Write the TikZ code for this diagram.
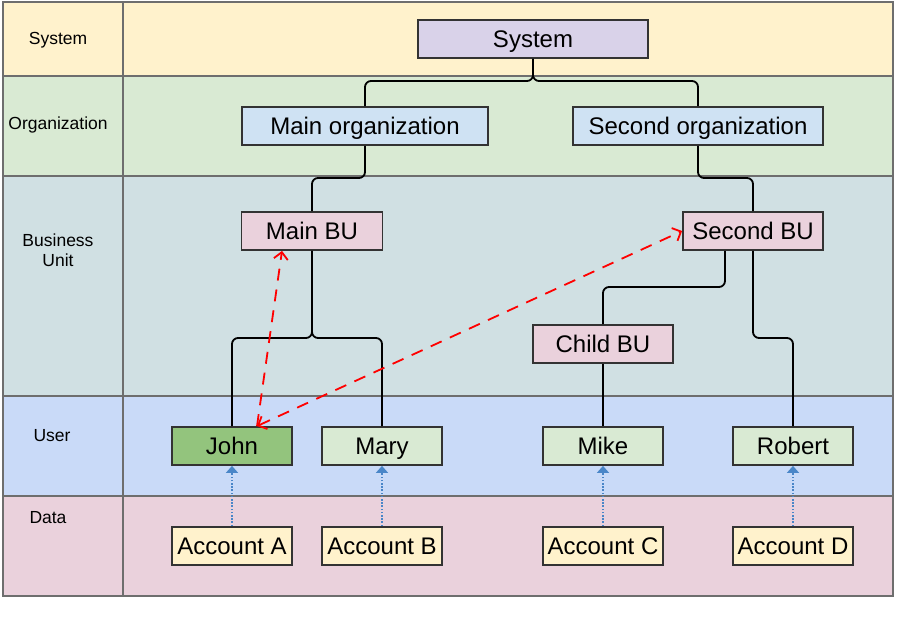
\documentclass[tikz,border=0pt]{standalone}
\usepackage{fontspec}
\setmainfont{Liberation Sans}
\usepackage{tikz}
\usetikzlibrary{positioning,calc,arrows.meta}
\definecolor{lnsys}{HTML}{FFF2CC}
\definecolor{lnorg}{HTML}{D9EAD3}
\definecolor{lnbu}{HTML}{D0E0E3}
\definecolor{lnuser}{HTML}{C9DAF8}
\definecolor{lndata}{HTML}{EAD1DC}
\definecolor{sysfill}{HTML}{D9D2E9}
\definecolor{orgfill}{HTML}{CFE2F3}
\definecolor{bufill}{HTML}{EAD1DC}
\definecolor{userfill}{HTML}{D9EAD3}
\definecolor{johnfill}{HTML}{93C47D}
\definecolor{accfill}{HTML}{FFF2CC}
\definecolor{boxline}{HTML}{333333}
\definecolor{laneline}{HTML}{6E6E6E}
\definecolor{linkblue}{HTML}{4A86C8}

\begin{document}
\begin{tikzpicture}[
  x=1pt, y=-1pt,
  lane/.style={draw=laneline,line width=1.6pt},
  lanelbl/.style={font=\fontsize{17.5}{20}\selectfont,align=center},
  box/.style={draw=boxline,line width=1.8pt,inner sep=0pt,minimum height=38pt,
              text height=17pt,text depth=0pt,font=\fontsize{24}{27}\selectfont},
  tree/.style={line width=1.8pt,rounded corners=6pt},
  assign/.style={red,line width=1.8pt,dash pattern=on 12pt off 9pt},
  barb/.style={arrows={-Straight Barb[length=7pt,width=14pt]}},
  dblbarb/.style={arrows={Straight Barb[length=7pt,width=14pt]-Straight Barb[length=7pt,width=14pt]}},
  owns/.style={linkblue,line width=1.6pt,dash pattern=on 1.6pt off 1.6pt,
               -{Triangle[length=7pt,width=12pt]}}
]
  \useasboundingbox (0,0) rectangle (913,620);

  % swim lanes
  \foreach \ya/\yb/\col in {2/76/lnsys, 76/176/lnorg, 176/396/lnbu, 396/496/lnuser, 496/596/lndata}{
    \draw[lane,fill=\col] (3,\ya) rectangle (123,\yb);
    \draw[lane,fill=\col] (123,\ya) rectangle (893,\yb);
  }
  \node[lanelbl] (lsys) at (58,40) {System};
  \node[lanelbl] (lorg) at (58,125) {Organization};
  \node[lanelbl] (lbu) at (58,250) {Business\\Unit};
  \node[lanelbl] (luser) at (52,436) {User};
  \node[lanelbl] (ldata) at (48,518) {Data};

  % boxes
  \node[box,fill=sysfill,minimum width=230pt] (sys) at (533,39) {System};
  \node[box,fill=orgfill,minimum width=246pt] (morg) at (365,126) {Main organization};
  \node[box,fill=orgfill,minimum width=250pt] (sorg) at (698,126) {Second organization};
  \node[box,fill=bufill,minimum width=141pt] (mbu) at (312,231) {Main BU};
  \node[box,fill=bufill,minimum width=140pt] (sbu) at (753,231) {Second BU};
  \node[box,fill=bufill,minimum width=140pt] (cbu) at (603,344) {Child BU};
  \node[box,fill=johnfill,minimum width=120pt] (john) at (232,446) {John};
  \node[box,fill=userfill,minimum width=120pt] (mary) at (382,446) {Mary};
  \node[box,fill=userfill,minimum width=120pt] (mike) at (603,446) {Mike};
  \node[box,fill=userfill,minimum width=120pt] (robert) at (793,446) {Robert};
  \node[box,fill=accfill,minimum width=120pt] (acca) at (232,546) {Account A};
  \node[box,fill=accfill,minimum width=120pt] (accb) at (382,546) {Account B};
  \node[box,fill=accfill,minimum width=120pt] (accc) at (603,546) {Account C};
  \node[box,fill=accfill,minimum width=120pt] (accd) at (793,546) {Account D};

  % hierarchy
  \draw[tree] (sys.south) -- (533,81) -| (morg.north);
  \draw[tree] (sys.south) -- (533,81) -| (sorg.north);
  \draw[tree] (morg.south) -- (365,178) -| (mbu.north);
  \draw[tree] (sorg.south) -- (698,178) -| (sbu.north);
  \draw[tree] (mbu.south) -- (312,338) -| (john.north);
  \draw[tree] (mbu.south) -- (312,338) -| (mary.north);
  \draw[tree] ($(sbu.south)+(-28,0)$) -- (725,287) -| (cbu.north);
  \draw[tree] (sbu.south) -- (753,338) -| (robert.north);
  \draw[tree] (cbu.south) -- (mike.north);

  % assignments
  \draw[assign,barb] ($(john.north)+(25,0)$) -- ($(mbu.south)+(-30,0)$);
  \draw[assign,dblbarb] ($(john.north)+(25,0)$) -- (sbu.west);

  % accounts
  \foreach \a/\u in {acca/john, accb/mary, accc/mike, accd/robert}
    \draw[owns] (\a.north) -- (\u.south);
\end{tikzpicture}
\end{document}
